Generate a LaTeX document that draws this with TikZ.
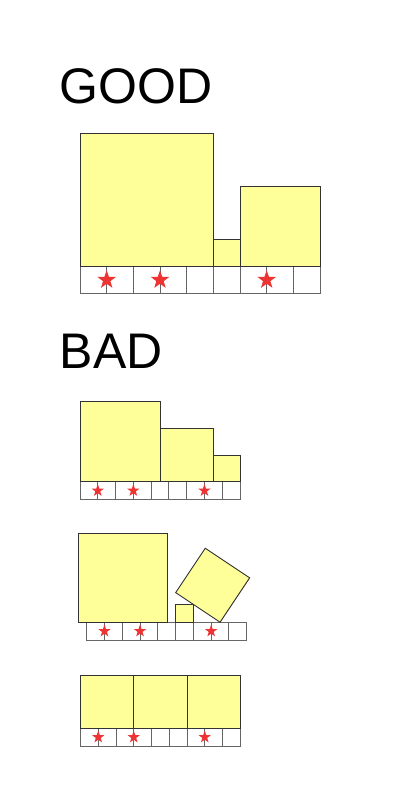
\documentclass[tikz,border=0pt]{standalone}
\usepackage{fontspec}
\setsansfont{Liberation Sans}
\usetikzlibrary{shapes}

\definecolor{boxyellow}{HTML}{FFFF99}
\definecolor{boxline}{HTML}{333333}
\definecolor{cellgray}{HTML}{666666}
\definecolor{starred}{HTML}{EE3333}

\begin{document}
\begin{tikzpicture}[x=0.75pt,y=0.75pt]
  \tikzstyle{cell}=[draw=cellgray,line width=0.7pt,fill=white]
  \tikzstyle{box}=[draw=boxline,line width=0.7pt,fill=boxyellow]
  \tikzstyle{starmark}=[star,star points=5,star point ratio=2.5,fill=starred,inner sep=0pt]
  \tikzstyle{title}=[font=\sffamily\fontsize{37.5}{45}\selectfont,anchor=base west,inner sep=0pt]

  \useasboundingbox (0,0) rectangle (400,800);

  \node[title] (good) at (59.5,696.7) {GOOD};
  \node[title] (bad) at (59.5,431.7) {BAD};

  \foreach \row/\x/\y/\u/\r in {G/80/506.7/26.67/14.5, B1/80/300.5/17.78/9.7, B2/86.7/160/17.78/9.7, B3/80.5/54/17.75/9.7}
  {
    \begin{scope}[shift={(\x,\y)},scale=\u]
      \foreach \i in {0,...,8}
        \draw[cell] (\i,0) rectangle ++(1,1);
      \foreach \k/\s in {1/a,3/b,7/c}
        \node[starmark,minimum size=\r pt] (\row-\s) at (\k,0.5) {};
    \end{scope}
  }

  \begin{scope}[shift={(80,533.37)},scale=26.67]
    \draw[box] (0,0) rectangle (5,5);
    \draw[box] (5,0) rectangle (6,1);
    \draw[box] (6,0) rectangle (9,3);
  \end{scope}

  \begin{scope}[shift={(80,318.28)},scale=17.78]
    \draw[box] (0,0) rectangle (4.5,4.5);
    \draw[box] (4.5,0) rectangle (7.5,3);
    \draw[box] (7.5,0) rectangle (9,1.5);
  \end{scope}

  \begin{scope}[shift={(86.7,177.78)},scale=17.78]
    \draw[box] (-0.47,0) rectangle (4.53,5);
    \draw[box] (5,0) rectangle (6,1);
    \draw[box] (7.5,0) -- ++(56.31:3) -- ++(146.31:3) -- ++(236.31:3) -- cycle;
  \end{scope}

  \begin{scope}[shift={(80.5,71.75)},scale=17.75]
    \foreach \i in {0,3,6}
      \draw[box] (\i,0) rectangle ++(3,3);
  \end{scope}
\end{tikzpicture}
\end{document}
